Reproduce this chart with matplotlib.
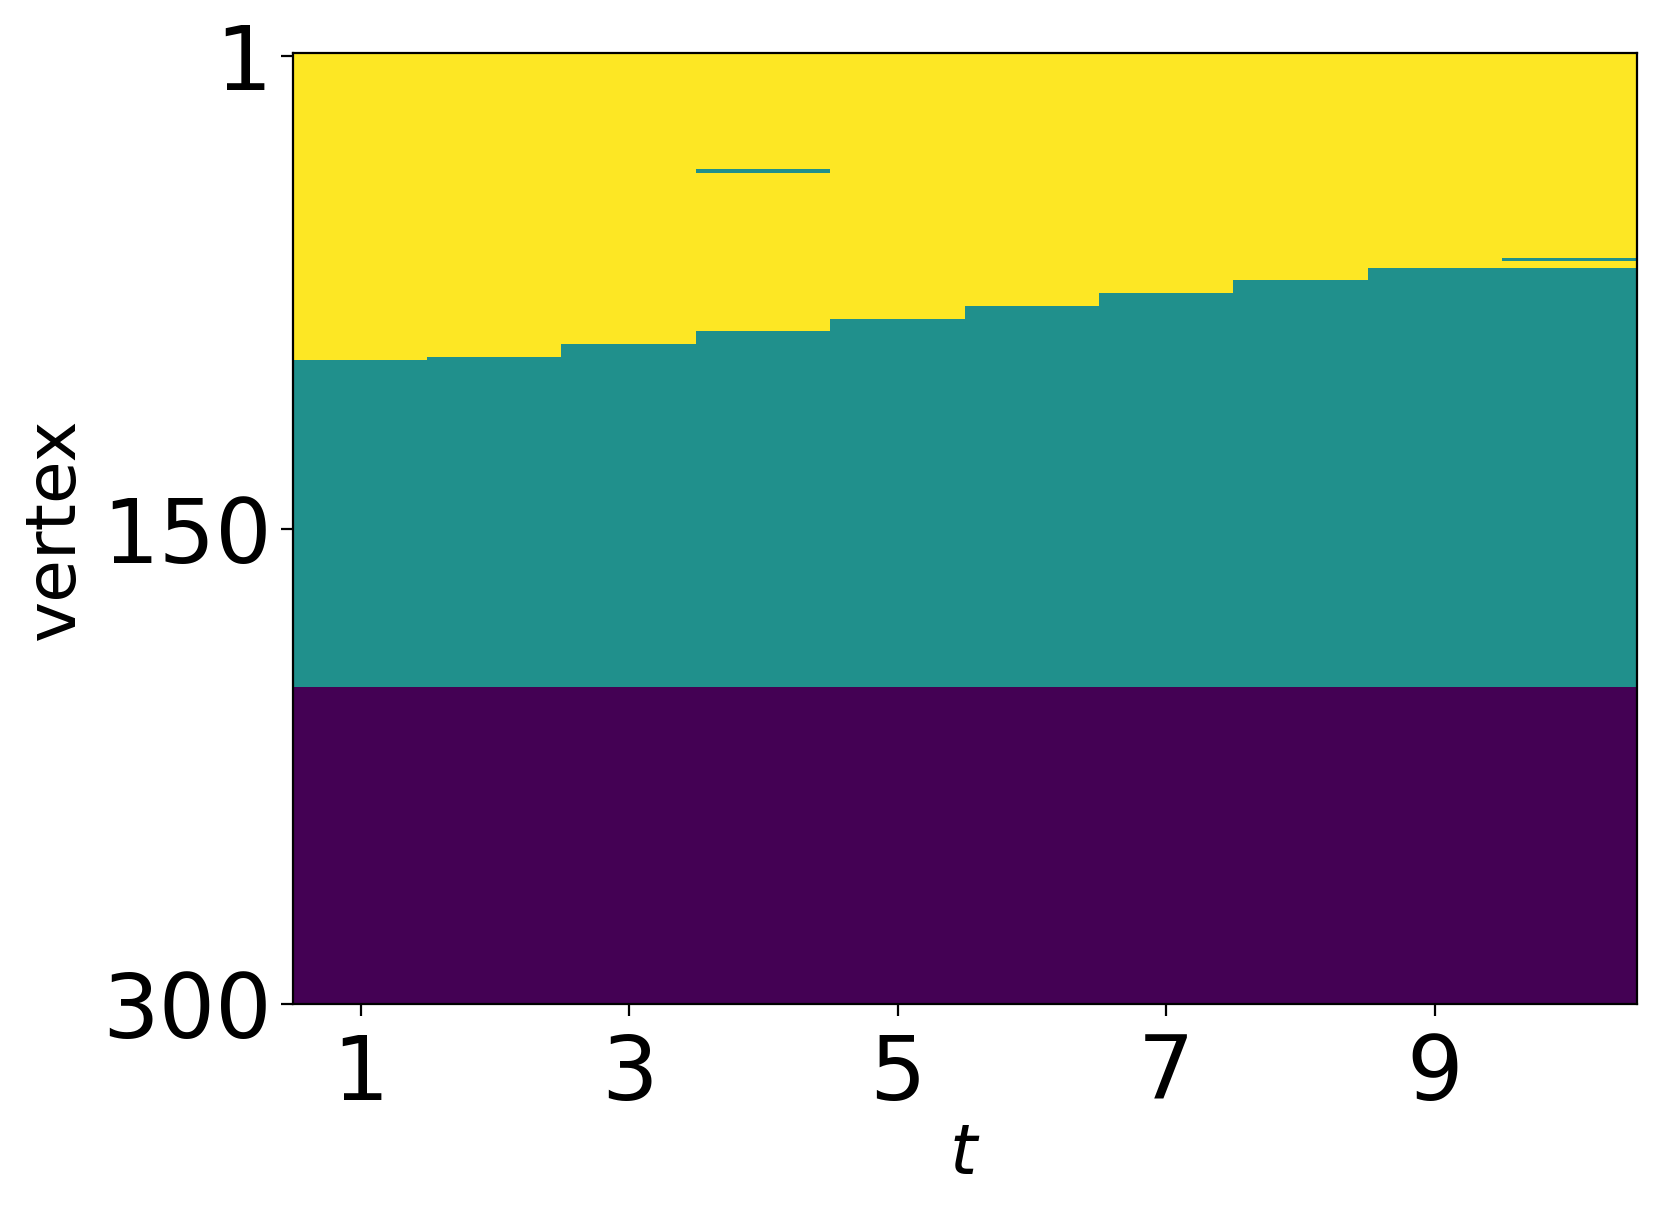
import numpy as np
import matplotlib
matplotlib.use("Agg")
import matplotlib.pyplot as plt

# Data: community label per vertex (300) per time step (10)
t_steps = [1, 2, 3, 4, 5, 6, 7, 8, 9, 10]
n_vertices = 300
yellow_counts = [97, 96, 92, 88, 84, 80, 76, 72, 68, 68]   # rows in community 2 (top)
teal_end = 200                                            # rows before purple block
stray_rows = {4: [37], 10: [65]}                          # single teal rows inside yellow
xtick_vals = [1, 3, 5, 7, 9]
ytick_vals = [1, 150, 300]
ytick_labels = ["1", "150", "300"]

M = np.zeros((n_vertices, len(t_steps)))
for j, t in enumerate(t_steps):
    M[:yellow_counts[j], j] = 2
    M[yellow_counts[j]:teal_end, j] = 1
    M[teal_end:, j] = 0
    for r in stray_rows.get(t, []):
        M[r, j] = 1

W, H, DPI = 1661, 1218, 200
fig = plt.figure(figsize=(W / DPI, H / DPI), dpi=DPI)
ax = fig.add_axes([293.4 / W, 1 - 1004.3 / H, (1636.6 - 293.4) / W, (1004.3 - 52.8) / H])
ax.imshow(M, cmap="viridis", aspect="auto", interpolation="nearest",
          extent=(0.5, 10.5, 300, 0), vmin=0, vmax=2)
ax.set_xticks(xtick_vals)
ax.set_xticklabels([str(v) for v in xtick_vals])
ax.set_yticks(ytick_vals)
ax.set_yticklabels(ytick_labels)
ax.tick_params(labelsize=32, length=4.3, width=0.8)
ax.tick_params(axis="x", pad=5.5)
ax.set_xlabel("$t$", fontsize=25, labelpad=1)
ax.set_ylabel("vertex", fontsize=25, labelpad=5)
fig.savefig("out.png", dpi=DPI)
